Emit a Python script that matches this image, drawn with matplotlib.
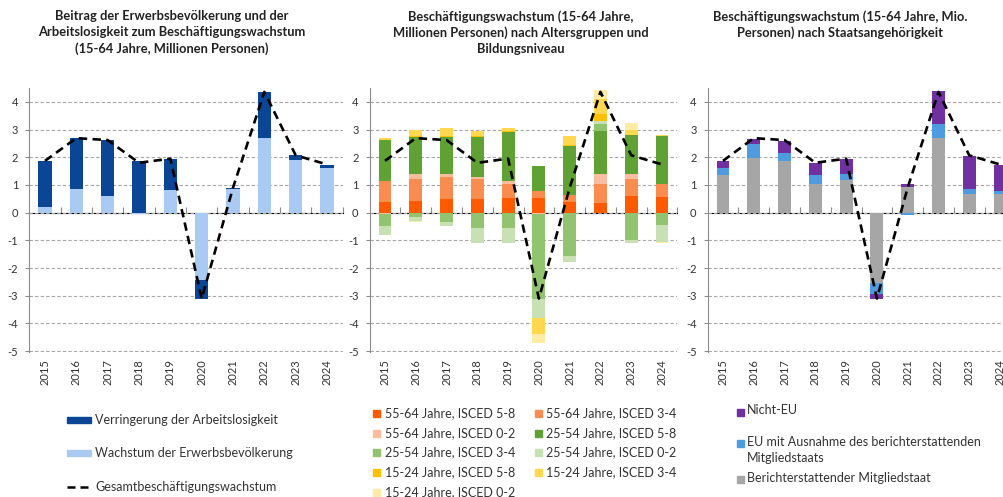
"""Beschäftigungswachstum – drei Panels mit gestapelten Balken -> out.png"""
import numpy as np
import matplotlib
matplotlib.use("Agg")
import matplotlib.pyplot as plt
from matplotlib.patches import Rectangle
from matplotlib.lines import Line2D

plt.rcParams["font.family"] = ["Lato", "DejaVu Sans"]
plt.rcParams["axes.unicode_minus"] = False

years = [str(y) for y in range(2015, 2025)]
total = [1.87, 2.69, 2.62, 1.80, 1.95, -3.10, 0.90, 4.36, 2.07, 1.74]
total_name = "Gesamtbeschäftigungswachstum"

# panel 1
p1_names = ["Wachstum der Erwerbsbevölkerung", "Verringerung der Arbeitslosigkeit"]
erwerbsbev = [0.22, 0.86, 0.60, -0.05, 0.81, -2.42, 0.86, 2.69, 1.91, 1.61]
arbeitslos = [1.65, 1.83, 2.01, 1.85, 1.14, -0.68, 0.04, 1.67, 0.16, 0.12]

# panel 2
p2_names = ["55-64 Jahre, ISCED 5-8", "55-64 Jahre, ISCED 3-4", "55-64 Jahre, ISCED 0-2",
            "25-54 Jahre, ISCED 5-8", "25-54 Jahre, ISCED 3-4", "25-54 Jahre, ISCED 0-2",
            "15-24 Jahre, ISCED 5-8", "15-24 Jahre, ISCED 3-4", "15-24 Jahre, ISCED 0-2"]
a55_58 = [0.38, 0.42, 0.48, 0.50, 0.54, 0.54, 0.38, 0.36, 0.60, 0.57]
a55_34 = [0.78, 0.78, 0.81, 0.70, 0.51, 0.24, 0.24, 0.68, 0.60, 0.45]
a55_02 = [-0.04, 0.20, 0.11, 0.09, 0.09, -0.06, 0.00, 0.36, 0.20, 0.00]
a25_58 = [1.45, 1.32, 1.33, 1.44, 1.76, 0.89, 1.77, 1.53, 1.41, 1.73]
a25_34 = [-0.44, -0.15, -0.33, -0.54, -0.54, -3.04, -1.58, 0.26, -1.00, -0.45]
a25_02 = [-0.34, -0.15, -0.15, -0.54, -0.54, -0.70, -0.21, 0.12, -0.10, -0.62]
a15_58 = [0.02, 0.05, 0.05, 0.04, 0.03, 0.00, 0.05, 0.24, 0.00, 0.00]
a15_34 = [0.05, 0.22, 0.27, 0.16, 0.14, -0.57, 0.31, 0.55, 0.18, 0.04]
a15_02 = [0.00, -0.04, 0.00, 0.00, 0.00, -0.35, 0.00, 0.32, 0.24, -0.04]

# panel 3
p3_names = ["Berichterstattender Mitgliedstaat",
            "EU mit Ausnahme des berichterstattenden\nMitgliedstaats", "Nicht-EU"]
inland = [1.37, 1.97, 1.88, 1.05, 1.17, -2.55, 0.91, 2.69, 0.67, 0.69]
eu_andere = [0.24, 0.51, 0.27, 0.32, 0.24, -0.39, -0.08, 0.50, 0.20, 0.08]
nicht_eu = [0.27, 0.18, 0.45, 0.42, 0.54, -0.18, 0.14, 1.20, 1.16, 0.95]

titles = ["Beitrag der Erwerbsbevölkerung und der\nArbeitslosigkeit zum Beschäftigungswachstum\n(15-64 Jahre, Millionen Personen)",
          "Beschäftigungswachstum (15-64 Jahre,\nMillionen Personen) nach Altersgruppen und\nBildungsniveau",
          "Beschäftigungswachstum (15-64 Jahre, Mio.\nPersonen) nach Staatsangehörigkeit"]

C1 = ["#a9cbf3", "#0b4596"]
C2 = ["#ff5a00", "#f98c4f", "#fbbd9f", "#5fa233", "#92c46f", "#c7e1b5",
      "#ffc000", "#ffd84f", "#ffeaa6"]
C3 = ["#a6a6a6", "#4f9be0", "#7030a0"]
GRID, AX = "#a6a6a6", "#8c8c8c"

W, H = 1004, 497
fig = plt.figure(figsize=(W / 100, H / 100), dpi=100)


def fx(x): return x / W
def fy(y): return 1 - y / H


def stacked(ax, series, colors):
    x = np.arange(len(years))
    pos = np.zeros(len(x)); neg = np.zeros(len(x))
    for vals, c in zip(series, colors):
        v = np.asarray(vals, float)
        ax.bar(x, v, 0.42, bottom=np.where(v >= 0, pos, neg), color=c, lw=0, zorder=2)
        pos += np.clip(v, 0, None); neg += np.clip(v, None, 0)
    ax.plot(x, total, color="black", lw=1.9, dashes=(3.2, 2.0), zorder=4)


def setup(ax):
    ax.set_xlim(-0.5, 9.5); ax.set_ylim(-5.03, 4.5)
    ax.set_yticks(range(-5, 5))
    ax.grid(axis="y", color=GRID, lw=0.8, ls=(0, (3, 2)))
    ax.set_axisbelow(True)
    for s in ["top", "right", "bottom"]:
        ax.spines[s].set_visible(False)
    ax.spines["left"].set_color(AX)
    ax.set_xticks(range(10)); ax.set_xticklabels(years, rotation=90)
    ax.tick_params(axis="x", length=0, pad=5, labelsize=8, labelcolor="#333")
    ax.tick_params(axis="y", length=3, color=AX, labelsize=8, pad=5, labelcolor="#333")
    sec = ax.secondary_xaxis(5.03 / 9.53)
    sec.set_xticks(np.arange(0.5, 10, 1))
    sec.set_xticklabels([])
    sec.tick_params(length=4, color=AX, labelbottom=False, labeltop=False)
    sec.spines["bottom"].set_color(AX)


hgt = (352 - 88) / H
ax1 = fig.add_axes([fx(29.3), fy(352), fx(313.4), hgt])
ax2 = fig.add_axes([fx(369.6), fy(352), fx(307.8), hgt])
ax3 = fig.add_axes([fx(707.6), fy(352), fx(307.8), hgt])

stacked(ax1, [erwerbsbev, arbeitslos], C1)
stacked(ax2, [a55_58, a55_34, a55_02, a25_58, a25_34, a25_02, a15_58, a15_34, a15_02], C2)
stacked(ax3, [inland, eu_andere, nicht_eu], C3)
for ax in (ax1, ax2, ax3):
    setup(ax)

for cx, t in zip([172, 521, 840], titles):
    fig.text(fx(cx), fy(10), t, ha="center", va="top", fontsize=9.3,
             fontweight="bold", linespacing=1.38, color="#222")

LS = 9.0  # legend font size

# legend panel 1
for y, name, c in [(420, p1_names[1], C1[1]), (453, p1_names[0], C1[0])]:
    fig.patches.append(Rectangle((fx(67), fy(y + 3)), fx(24), 6 / H, color=c,
                                 transform=fig.transFigure))
    fig.text(fx(95), fy(y), name, va="center", fontsize=LS, color="#333")
fig.lines.append(Line2D([fx(67), fx(91)], [fy(487)] * 2, color="black", lw=1.8,
                        dashes=(3.2, 2.0), transform=fig.transFigure))
fig.text(fx(95), fy(487), total_name, va="center", fontsize=LS, color="#333")

# legend panel 2
rows = [413, 433, 452, 472, 492]
for i, (name, c) in enumerate(zip(p2_names, C2)):
    r, col = divmod(i, 2)
    mx, tx = (373, 385) if col == 0 else (535, 546)
    y = rows[r]
    fig.patches.append(Rectangle((fx(mx), fy(y + 3.5)), fx(7), 7 / H, color=c,
                                 transform=fig.transFigure))
    fig.text(fx(tx), fy(y), name, va="center", fontsize=LS, color="#333")

# legend panel 3
for y, name, c in [(412, p3_names[2], C3[2]), (443, p3_names[1], C3[1]), (479, p3_names[0], C3[0])]:
    fig.patches.append(Rectangle((fx(737), fy(y + 3.5)), fx(7), 7 / H, color=c,
                                 transform=fig.transFigure))
    fig.text(fx(747), fy(y - 7.5), name, va="top", fontsize=LS, color="#333", linespacing=1.45)

fig.savefig("out.png", dpi=100)
